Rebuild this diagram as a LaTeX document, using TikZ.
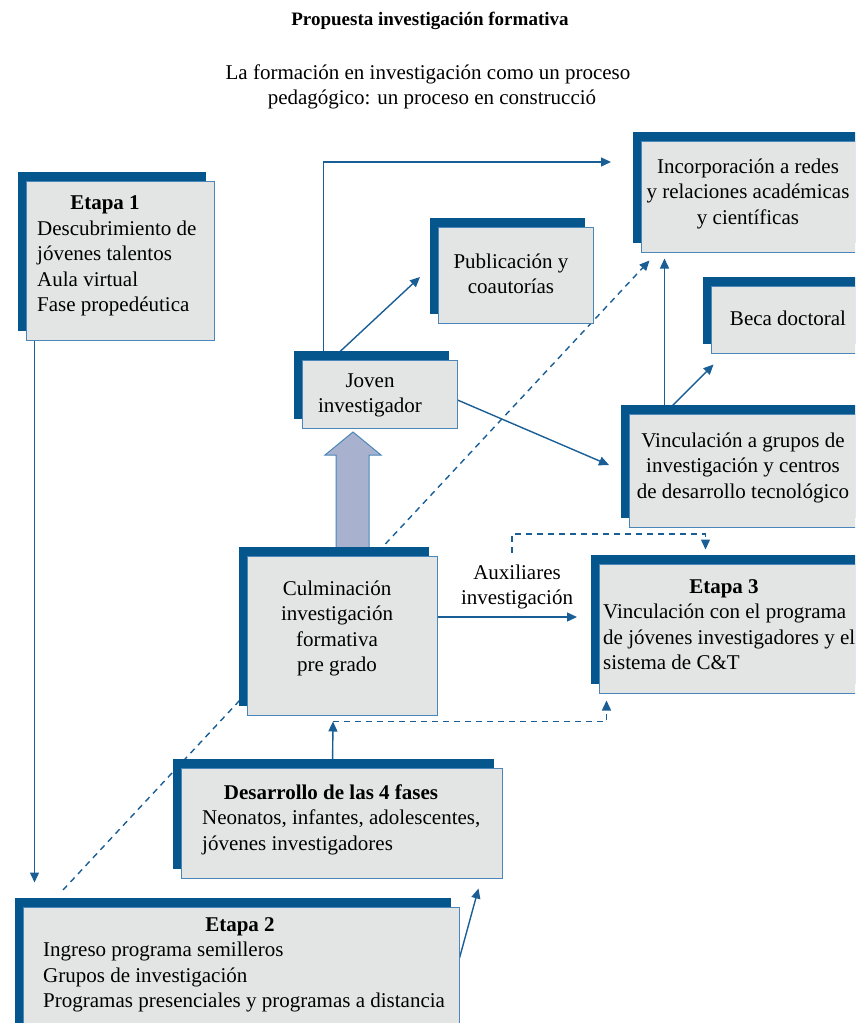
\documentclass[tikz,border=0pt]{standalone}
\usepackage{fontspec}
\setmainfont{Liberation Serif}
\usetikzlibrary{arrows.meta,shadows,backgrounds}
\definecolor{shadowblue}{HTML}{05568C}
\definecolor{boxgray}{HTML}{E3E4E4}
\definecolor{bordblue}{HTML}{4A86B8}
\definecolor{lineblue}{HTML}{1A5E96}
\definecolor{bigfill}{HTML}{A8B2CF}
\newcommand\bodyf{\fontsize{21}{25.5}\selectfont}
\begin{document}
\begin{tikzpicture}[x=1pt,y=-1pt,
  box/.style={draw=bordblue, line width=1pt, fill=boxgray, inner sep=0pt,
    general shadow={fill=shadowblue, shadow xshift=-8.5pt, shadow yshift=9pt}},
  txt/.style={inner sep=0pt, font=\bodyf, text=black},
  arr/.style={draw=lineblue, line width=1.4pt, -{Triangle[length=10pt,width=9pt]}},
  dsh/.style={arr, dash pattern=on 6pt off 5pt},
]
\clip (0,0) rectangle (855,1023);

% titles
\node[txt, anchor=base, font=\fontsize{19}{24}\selectfont\bfseries] (title) at (430,25) {Propuesta investigación formativa};
\node[txt, anchor=base] (sub1) at (428,79) {La formación en investigación como un proceso};
\node[txt, anchor=base] (sub2) at (432,104) {pedagógico: un proceso en construcció};

% boxes
\node[box, minimum width=188pt, minimum height=159pt] (e1) at (120,260.5) {};
\node[box, minimum width=436pt, minimum height=128pt] (e2) at (241,971) {};
\node[box, minimum width=321pt, minimum height=110pt] (des) at (341.5,823) {};
\node[box, minimum width=190pt, minimum height=159pt] (cul) at (342,635.5) {};
\node[box, minimum width=155pt, minimum height=68pt] (jov) at (379.5,394) {};
\node[box, minimum width=155pt, minimum height=96pt] (pub) at (515.5,275) {};
\node[box, minimum width=229pt, minimum height=111pt] (inc) at (755.5,196.5) {};
\node[box, minimum width=159pt, minimum height=67pt] (beca) at (790.5,319.5) {};
\node[box, minimum width=241pt, minimum height=113pt] (vin) at (749.5,470.5) {};
\node[box, minimum width=271pt, minimum height=129pt] (e3) at (734.5,628.5) {};

% free ends
\coordinate (toinc) at (611,162);
\coordinate (topub) at (420,277);
\coordinate (tovin) at (609,465);
\coordinate (toe3) at (577,617);
\coordinate (auxtop) at (512,553);
\coordinate (diagstart) at (63,890);

\begin{scope}[on background layer]
  % big arrow
  \draw[draw=bordblue, line width=1pt, fill=bigfill]
    (336,552) -- (336,455) -- (325,455) -- (353,432) -- (381,455) -- (369,455) -- (369,552) -- cycle;
  % connectors
  \draw[arr] ([xshift=9pt]e1.south west) -- ([xshift=12pt,yshift=24pt]e2.north west);
  \draw[dsh] (diagstart) -- ([xshift=9pt,yshift=-8pt]inc.south west);
  \draw[arr] ([xshift=22pt]jov.north west) |- (toinc);
  \draw[arr] ([xshift=30pt]jov.north west) -- (topub);
  \draw[arr] ([yshift=-6pt]jov.east) -- (tovin);
  \draw[arr] ([xshift=36pt]vin.north west) -- ([xshift=24pt,yshift=-6pt]inc.south west);
  \draw[arr] ([xshift=36pt]vin.north west) -- ([xshift=3pt,yshift=-11pt]beca.south west);
  \draw[arr] (cul.east |- toe3) -- (toe3);
  \draw[dsh] (auxtop) -- ++(0,-19) -| ([xshift=107pt,yshift=14pt]e3.north west);
  \draw[arr] ([xshift=-9pt]des.north) -- ([xshift=-9pt,yshift=-6pt]cul.south);
  \draw[dsh] ([xshift=-9pt,yshift=-6pt]cul.south) -| ([xshift=8pt,yshift=-7pt]e3.south west);
  \draw[arr] ([yshift=13pt]e2.east) -- ([xshift=-24pt,yshift=-10pt]des.south east);
\end{scope}

% texts
\node[txt, anchor=base] (e1h) at (105,209) {\textbf{Etapa 1}};
\node[txt, anchor=base west] (e1a) at (37,235) {Descubrimiento de};
\node[txt, anchor=base west] (e1b) at (37,260.5) {jóvenes talentos};
\node[txt, anchor=base west] (e1c) at (37,286) {Aula virtual};
\node[txt, anchor=base west] (e1d) at (37,311.5) {Fase propedéutica};

\node[txt, anchor=base] (e2h) at (240,931) {\textbf{Etapa 2}};
\node[txt, anchor=base west] (e2a) at (43,956.5) {Ingreso programa semilleros};
\node[txt, anchor=base west] (e2b) at (43,982) {Grupos de investigación};
\node[txt, anchor=base west] (e2c) at (43,1007.5) {Programas presenciales y programas a distancia};

\node[txt, anchor=base] (desh) at (331,799) {\textbf{Desarrollo de las 4 fases}};
\node[txt, anchor=base west] (desa) at (202,824.5) {Neonatos, infantes, adolescentes,};
\node[txt, anchor=base west] (desb) at (202,850) {jóvenes investigadores};

\node[txt, anchor=base] (cula) at (337,595) {Culminación};
\node[txt, anchor=base] (culb) at (337,620.5) {investigación};
\node[txt, anchor=base] (culc) at (337,646) {formativa};
\node[txt, anchor=base] (culd) at (337,671.5) {pre grado};

\node[txt, anchor=base] (jova) at (370,387) {Joven};
\node[txt, anchor=base] (jovb) at (370,412.5) {investigador};

\node[txt, anchor=base] (puba) at (511,268) {Publicación y};
\node[txt, anchor=base] (pubb) at (511,293.5) {coautorías};

\node[txt, anchor=base] (inca) at (748,173) {Incorporación a redes};
\node[txt, anchor=base] (incb) at (748,198.5) {y relaciones académicas};
\node[txt, anchor=base] (incc) at (748,224) {y científicas};

\node[txt, anchor=base] (becaa) at (788,325) {Beca doctoral};

\node[txt, anchor=base] (vina) at (743,447) {Vinculación a grupos de};
\node[txt, anchor=base] (vinb) at (743,472.5) {investigación y centros};
\node[txt, anchor=base] (vinc) at (743,498) {de desarrollo tecnológico};

\node[txt, anchor=base] (e3h) at (724,593) {\textbf{Etapa 3}};
\node[txt, anchor=base west] (e3a) at (603,618.5) {Vinculación con el programa};
\node[txt, anchor=base west] (e3b) at (603,644) {de jóvenes investigadores y el};
\node[txt, anchor=base west] (e3c) at (603,669.5) {sistema de C\&T};

\node[txt, anchor=base] (auxa) at (517,579) {Auxiliares};
\node[txt, anchor=base] (auxb) at (517,604.5) {investigación};
\end{tikzpicture}
\end{document}
